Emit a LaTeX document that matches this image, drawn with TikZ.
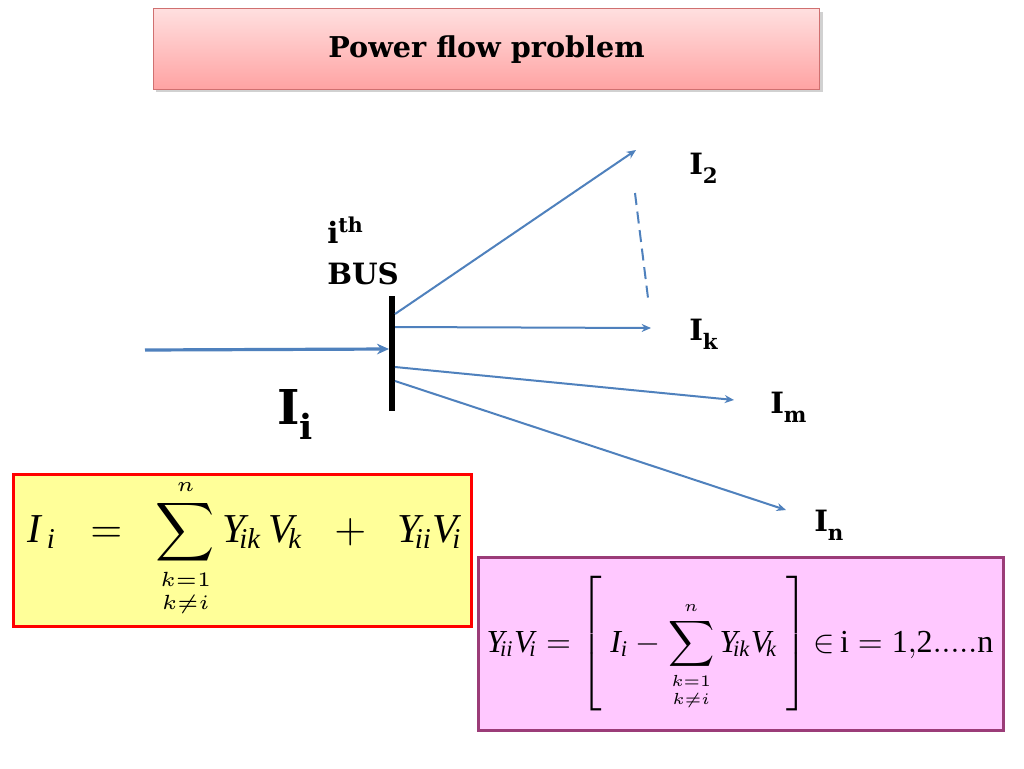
\documentclass[tikz,border=0pt]{standalone}
\usepackage{amsmath}
\usepackage{graphicx}
\usepackage{fontspec}
\setmainfont{Liberation Serif}
\newfontfamily\bk{DejaVu Serif}
\usetikzlibrary{arrows.meta}
\definecolor{lineblue}{HTML}{4F81BD}
\definecolor{titletop}{HTML}{FFE0E0}
\definecolor{titlebot}{HTML}{FFA3A3}
\definecolor{titleborder}{HTML}{D07070}
\definecolor{yellowfill}{HTML}{FFFF99}
\definecolor{pinkfill}{HTML}{FFC8FF}
\definecolor{pinkborder}{HTML}{9B3C78}
\newcommand\lsub[1]{\raisebox{-0.32em}{\fontsize{16}{18}\selectfont #1}}
\newcommand\bigsub[1]{\raisebox{-0.32em}{\fontsize{26}{30}\selectfont #1}}
\newcommand\mi[1]{\mathit{#1}}
\newcommand\gap{\;\hspace{2.6pt}}
\tikzset{
  titlebox/.style={draw=titleborder, line width=0.6pt, top color=titletop, bottom color=titlebot,
    minimum width=500pt, minimum height=60.75pt, inner sep=0pt},
  lbl/.style={font=\bk\bfseries\fontsize{22}{26}\selectfont, inner sep=0pt},
  flow/.style={draw=lineblue, line width=1.5pt, -{Stealth[length=7pt,width=6pt]}},
  inflow/.style={draw=lineblue, line width=2.4pt, -{Stealth[length=9pt,width=8pt]}},
  bus/.style={line width=4.5pt},
  eqbox/.style={inner sep=0pt},
}
\begin{document}
\begin{tikzpicture}[x=0.75pt,y=-0.75pt]
\useasboundingbox (0,0) rectangle (1024,768);
\fill[white] (0,0) rectangle (1024,768);
% title
\fill[black!18] (156,12) rectangle (823,92);
\node[titlebox] (title) at (486.5,48.5) {};
\node[anchor=base, inner sep=0pt] (titletext) at (486.5,57) {\bk\bfseries\fontsize{21.5}{24}\selectfont Power flow problem};
% bus
\coordinate (bt) at (392,296);
\coordinate (bb) at (392,411);
\draw[bus] (bt) -- (bb);
% incoming
\coordinate (src) at (145,350);
\coordinate (bin) at (389,349);
\draw[inflow] (src) -- (bin);
% outgoing
\coordinate (o2) at (395,314);
\coordinate (ok) at (395,327);
\coordinate (om) at (395,367);
\coordinate (on) at (395,381);
\coordinate (e2) at (636,150);
\coordinate (ek) at (651,328);
\coordinate (em) at (734,400);
\coordinate (en) at (786,510);
\draw[flow] (o2) -- (e2);
\draw[flow] (ok) -- (ek);
\draw[flow] (om) -- (em);
\draw[flow] (on) -- (en);
\coordinate (d1) at (635,193);
\coordinate (d2) at (648,298);
\draw[draw=lineblue, line width=1.5pt, dash pattern=on 9pt off 5pt] (d1) -- (d2);
% labels
\node[lbl, anchor=base west] (l2) at (689,174) {I\lsub{2}};
\node[lbl, anchor=base west] (lk) at (689,340) {I\lsub{k}};
\node[lbl, anchor=base west] (lm) at (770,413) {I\lsub{m}};
\node[lbl, anchor=base west] (ln) at (814,531) {I\lsub{n}};
\node[lbl, anchor=base west, font=\bk\bfseries\fontsize{36}{40}\selectfont] (li) at (277,424) {I\bigsub{i}};
\node[lbl, anchor=base west] (ith) at (327,243) {i\textsuperscript{th}};
\node[lbl, anchor=base west] (busl) at (327,284) {BUS};
% yellow box
\draw[fill=yellowfill, draw=red, line width=2.25pt] (13,474) rectangle (471,626);
\node[eqbox] (eq1) at (245,548) {\resizebox{326pt}{!}{$\displaystyle \mi{I}_{\,\mi{i}} \gap=\gap \sum_{\substack{\scriptscriptstyle k=1\\ \scriptscriptstyle k\neq i}}^{\scriptscriptstyle n} \mi{Y}_{\!\mi{ik}}\,\mi{V}_{\!\mi{k}} \gap+\gap \mi{Y}_{\!\mi{ii}}\mi{V}_{\!\mi{i}}$}};
% pink box
\draw[fill=pinkfill, draw=pinkborder, line width=2.25pt] (478,557) rectangle (1003,730);
\node[eqbox] (eq2) at (740,644) {\resizebox{380pt}{!}{$\displaystyle \mi{Y}_{\!\mi{ii}}\mi{V}_{\!\mi{i}} = \left[\vrule height 20pt depth 16pt width 0pt\; \mi{I}_{\mi{i}} - \sum_{\substack{\scriptscriptstyle k=1\\ \scriptscriptstyle k\neq i}}^{\scriptscriptstyle n} \mi{Y}_{\!\mi{ik}}\mi{V}_{\!\mi{k}} \;\right] {\in}\, \mathrm{i} = \mathrm{1{,}2.....n}$}};
\end{tikzpicture}
\end{document}
